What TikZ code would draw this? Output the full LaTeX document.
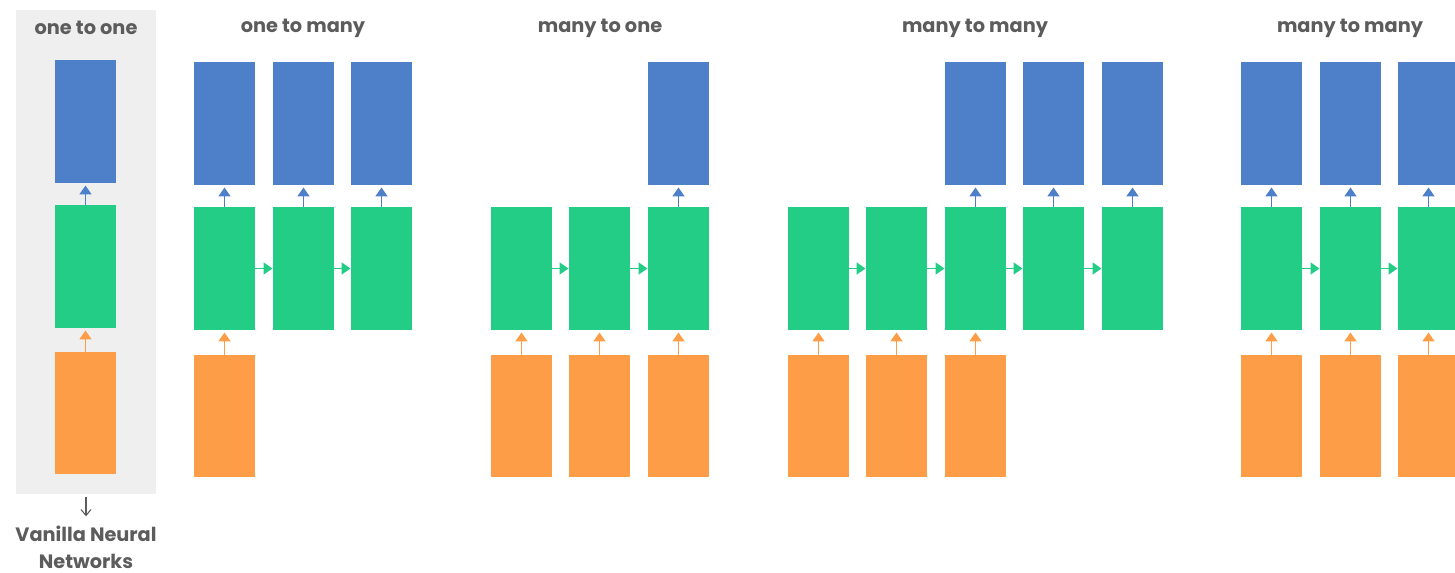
\documentclass[tikz,border=0pt]{standalone}
\usepackage{fontspec}
\setmainfont{Poppins}
\usetikzlibrary{arrows.meta}
\definecolor{blau}{HTML}{4E7FC9}
\definecolor{gruen}{HTML}{23CD85}
\definecolor{orng}{HTML}{FD9D47}
\definecolor{panelg}{HTML}{EFEFEF}
\definecolor{txtg}{HTML}{5C5C5C}
\tikzset{
  box/.style={minimum width=1.22cm,minimum height=2.46cm,inner sep=0pt,outer sep=0pt},
  outb/.style={box,fill=blau},
  hidb/.style={box,fill=gruen},
  inb/.style={box,fill=orng},
  upb/.style={-{Triangle[length=1.8mm,width=2.4mm]},blau,line width=1pt,shorten >=0.5mm},
  upo/.style={-{Triangle[length=1.8mm,width=2.4mm]},orng,line width=1pt,shorten >=0.5mm},
  rgt/.style={-{Triangle[length=1.8mm,width=2.4mm]},gruen,line width=1pt,shorten >=0.1mm},
  titel/.style={txtg,font=\fontsize{11}{13}\selectfont\bfseries,inner sep=0pt},
  dn/.style={-{Straight Barb[length=1.2mm,width=2mm]},txtg,line width=0.6pt},
}
\begin{document}
\begin{tikzpicture}[x=0.02cm,y=-0.02cm]
  \useasboundingbox (0,0) rectangle (1455,572);
  % one to one
  \node[fill=panelg,minimum width=2.8cm,minimum height=9.68cm,inner sep=0pt] (pnl) at (86,252) {};
  \node[titel] (t1) at (86,28) {one to one};
  \node[outb] (a1) at (85.5,121.5) {};
  \node[hidb] (a2) at (85.5,266.5) {};
  \node[inb] (a3) at (85.5,413) {};
  \draw[upb] (a2) -- (a1);
  \draw[upo] (a3) -- (a2);
  \node[titel,align=center,font=\fontsize{11}{15.4}\selectfont\bfseries] (van) at (86,547) {Vanilla Neural\\Networks};
  \draw[dn] ([yshift=-0.06cm]pnl.south) -- ([yshift=0.18cm]van.north);
  % one to many
  \node[titel] (t2) at (303,28) {one to many};
  \foreach \i/\x in {1/224.5,2/303.5,3/381.5} {
    \node[outb] (bo\i) at (\x,123.5) {};
    \node[hidb] (bh\i) at (\x,268.5) {};
    \draw[upb] (bh\i) -- (bo\i);
  }
  \node[inb] (bi1) at (224.5,416) {};
  \draw[upo] (bi1) -- (bh1);
  \draw[rgt] (bh1) -- (bh2);
  \draw[rgt] (bh2) -- (bh3);
  % many to one
  \node[titel] (t3) at (600,28) {many to one};
  \foreach \i/\x in {1/521.5,2/599.5,3/678.5} {
    \node[hidb] (ch\i) at (\x,268.5) {};
    \node[inb] (ci\i) at (\x,416) {};
    \draw[upo] (ci\i) -- (ch\i);
  }
  \node[outb] (co3) at (678.5,123.5) {};
  \draw[upb] (ch3) -- (co3);
  \draw[rgt] (ch1) -- (ch2);
  \draw[rgt] (ch2) -- (ch3);
  % many to many (delayed)
  \node[titel] (t4) at (975,28) {many to many};
  \foreach \i/\x in {1/818.5,2/896.5,3/975.5,4/1053.5,5/1132.5}
    \node[hidb] (dh\i) at (\x,268.5) {};
  \foreach \i in {1,2,3} {
    \node[inb] (di\i) at (dh\i |- 0,416) {};
    \draw[upo] (di\i) -- (dh\i);
  }
  \foreach \i in {3,4,5} {
    \node[outb] (do\i) at (dh\i |- 0,123.5) {};
    \draw[upb] (dh\i) -- (do\i);
  }
  \foreach \i/\j in {1/2,2/3,3/4,4/5}
    \draw[rgt] (dh\i) -- (dh\j);
  % many to many (synced)
  \node[titel] (t5) at (1350,28) {many to many};
  \foreach \i/\x in {1/1271.5,2/1350.5,3/1428.5} {
    \node[outb] (eo\i) at (\x,123.5) {};
    \node[hidb] (eh\i) at (\x,268.5) {};
    \node[inb] (ei\i) at (\x,416) {};
    \draw[upb] (eh\i) -- (eo\i);
    \draw[upo] (ei\i) -- (eh\i);
  }
  \draw[rgt] (eh1) -- (eh2);
  \draw[rgt] (eh2) -- (eh3);
\end{tikzpicture}
\end{document}
